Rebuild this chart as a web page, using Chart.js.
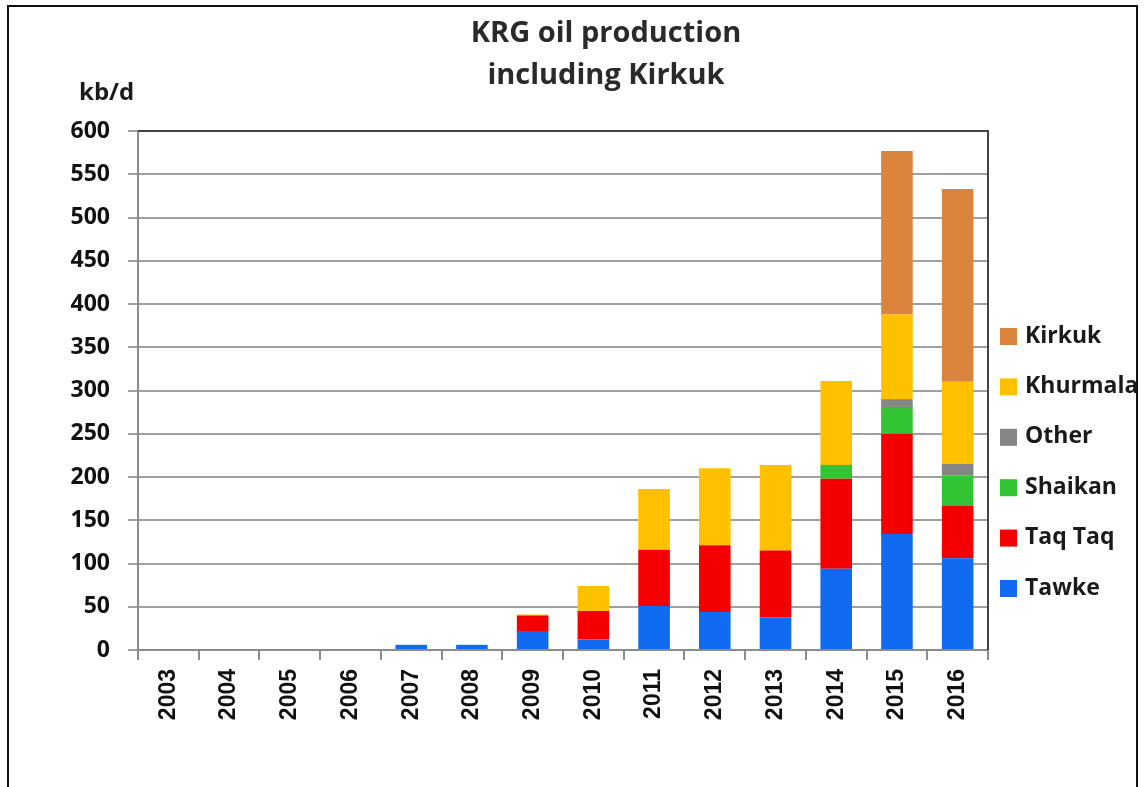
<!DOCTYPE html>
<html>
<head>
<meta charset="utf-8">
<script src="https://cdn.jsdelivr.net/npm/chart.js@4"></script>
<style>
  html, body { margin: 0; padding: 0; background: #fff; }
  #wrap { position: relative; width: 1146px; height: 787px; overflow: hidden; }
  #frame { position: absolute; left: 7px; top: 5px; width: 1131px; height: 800px; border: 2px solid #111; box-sizing: border-box; }
  #c { position: absolute; left: 0; top: 0; }
</style>
</head>
<body>
<div id="wrap">
  <div id="frame"></div>
  <canvas id="c" width="1146" height="787"></canvas>
</div>
<script>
const years = ['2003','2004','2005','2006','2007','2008','2009','2010','2011','2012','2013','2014','2015','2016'];
const tawke    = [0, 0, 0, 0, 6, 6, 22, 12, 51, 44, 38, 94, 134, 106];
const taqTaq   = [0, 0, 0, 0, 0, 0, 18, 33, 65, 77, 77, 104, 116, 61];
const shaikan  = [0, 0, 0, 0, 0, 0, 0, 0, 0, 0, 0, 16, 31, 35];
const other    = [0, 0, 0, 0, 0, 0, 0, 0, 0, 0, 0, 0, 9, 13];
const khurmala = [0, 0, 0, 0, 0, 0, 1, 29, 70, 89, 99, 97, 98, 95];
const kirkuk   = [0, 0, 0, 0, 0, 0, 0, 0, 0, 0, 0, 0, 189, 223];
const titleLines = ['KRG oil production', 'including Kirkuk'];
const unitLabel = 'kb/d';

const colors = {
  Tawke: '#116BF0', 'Taq Taq': '#F50000', Shaikan: '#33C433',
  Other: '#858585', Khurmala: '#FFC000', Kirkuk: '#DA843E'
};

function ds(label, data) {
  return { label, data, backgroundColor: colors[label], borderWidth: 0,
           barPercentage: 0.52, categoryPercentage: 1.0 };
}

const decorPlugin = {
  id: 'decor',
  afterDraw(chart) {
    const { ctx, chartArea } = chart;
    ctx.save();
    // plot border top & right
    ctx.strokeStyle = '#444';
    ctx.lineWidth = 2;
    ctx.beginPath();
    ctx.moveTo(chartArea.left, chartArea.top);
    ctx.lineTo(chartArea.right, chartArea.top);
    ctx.lineTo(chartArea.right, chartArea.bottom);
    ctx.stroke();
    // title
    ctx.fillStyle = '#2a2a2a';
    ctx.textAlign = 'center';
    ctx.textBaseline = 'middle';
    ctx.font = 'bold 29px "Open Sans"';
    ctx.fillText(titleLines[0], 606, 34);
    ctx.fillText(titleLines[1], 606, 76);
    // unit
    ctx.fillStyle = '#1a1a1a';
    ctx.font = 'bold 24px "Open Sans"';
    ctx.textAlign = 'left';
    ctx.fillText(unitLabel, 79, 93);
    // legend (reverse order of stacking)
    const items = chart.data.datasets.slice().reverse();
    ctx.font = 'bold 23px "Open Sans"';
    items.forEach((d, i) => {
      const yc = 336 + i * 50.4;
      ctx.fillStyle = d.backgroundColor;
      ctx.fillRect(1000, yc - 8, 17, 17);
      ctx.fillStyle = '#1a1a1a';
      ctx.fillText(d.label, 1025, yc);
    });
    ctx.restore();
  }
};

new Chart(document.getElementById('c'), {
  type: 'bar',
  data: {
    labels: years,
    datasets: [
      ds('Tawke', tawke), ds('Taq Taq', taqTaq), ds('Shaikan', shaikan),
      ds('Other', other), ds('Khurmala', khurmala), ds('Kirkuk', kirkuk)
    ]
  },
  options: {
    responsive: false,
    animation: false,
    devicePixelRatio: 1,
    layout: { padding: { top: 131, right: 158, bottom: 0, left: 0 } },
    plugins: { legend: { display: false }, title: { display: false }, tooltip: { enabled: false } },
    scales: {
      x: {
        stacked: true,
        grid: { drawOnChartArea: false, drawTicks: true, tickLength: 10, color: '#8c8c8c', lineWidth: 2, offset: true },
        border: { color: '#8c8c8c', width: 2 },
        ticks: { color: '#111', font: { family: 'Liberation Sans', weight: 'bold', size: 23 }, minRotation: 90, maxRotation: 90, padding: 9 },
        afterFit(scale) { scale.height = 137; }
      },
      y: {
        stacked: true,
        min: 0, max: 600,
        ticks: { stepSize: 50, color: '#111', font: { family: 'Open Sans', weight: 'bold', size: 23 }, padding: 18 },
        grid: { color: '#a0a0a0', lineWidth: 2, tickLength: 10 },
        border: { color: '#8c8c8c', width: 2 },
        afterFit(scale) { scale.width = 138; }
      }
    }
  },
  plugins: [decorPlugin]
});
</script>
</body>
</html>
